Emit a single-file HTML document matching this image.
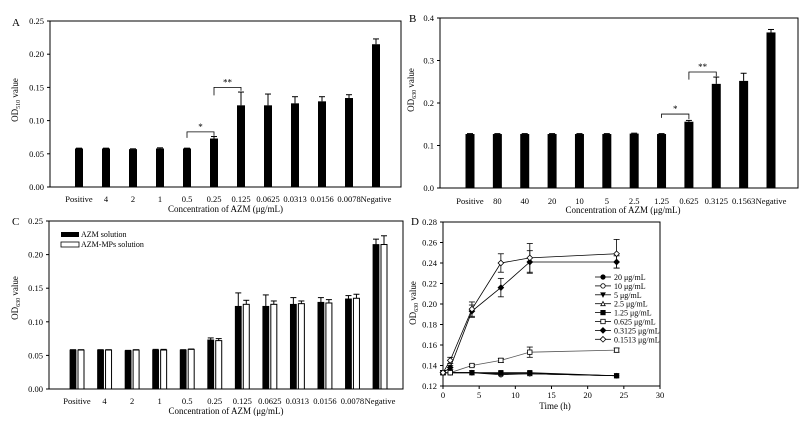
<!DOCTYPE html>
<html><head><meta charset="utf-8"><style>
body{margin:0;background:#fff}
svg{display:block;font-family:"Liberation Serif",serif}
</style></head><body>
<svg id="fig" width="806" height="425" viewBox="0 0 806 425" xmlns="http://www.w3.org/2000/svg"></svg>
<script>
// ---- Panel A data ----
const catsA = ["Positive","4","2","1","0.5","0.25","0.125","0.0625","0.0313","0.0156","0.0078","Negative"];
const valsA = [0.058,0.058,0.057,0.058,0.058,0.073,0.123,0.123,0.126,0.129,0.134,0.215];
const errA  = [0.0005,0.0005,0.0005,0.001,0.0005,0.003,0.020,0.017,0.010,0.007,0.005,0.008];
const ticksA = ["0.00","0.05","0.10","0.15","0.20","0.25"];
// ---- Panel B data ----
const catsB = ["Positive","80","40","20","10","5","2.5","1.25","0.625","0.3125","0.1563","Negative"];
const valsB = [0.127,0.127,0.127,0.127,0.127,0.127,0.128,0.127,0.156,0.245,0.252,0.366];
const errB  = [0.001,0.001,0.001,0.001,0.001,0.001,0.001,0.001,0.003,0.016,0.018,0.007];
const ticksB = ["0.0","0.1","0.2","0.3","0.4"];
// ---- Panel C data ----
const valsC1 = [0.058,0.058,0.057,0.058,0.058,0.073,0.123,0.123,0.126,0.129,0.134,0.215];
const errC1  = [0.0005,0.0005,0.0005,0.001,0.0005,0.003,0.020,0.017,0.010,0.007,0.005,0.008];
const valsC2 = [0.058,0.058,0.058,0.058,0.059,0.072,0.126,0.126,0.127,0.128,0.135,0.215];
const errC2  = [0.0005,0.0005,0.0005,0.001,0.0005,0.003,0.006,0.005,0.004,0.005,0.006,0.013];
// ---- Panel D data ----
const timesD = [0,1,4,8,12,24];
const labelsD = ["20 μg/mL","10 μg/mL","5 μg/mL","2.5 μg/mL","1.25 μg/mL","0.625 μg/mL","0.3125 μg/mL","0.1513 μg/mL"];
const d20   = [0.133,0.133,0.133,0.132,0.132,0.130];
const d10   = [0.133,0.133,0.133,0.131,0.132,0.130];
const d5    = [0.133,0.133,0.133,0.132,0.132,0.130];
const d25   = [0.133,0.133,0.133,0.132,0.132,0.130];
const d125  = [0.133,0.133,0.133,0.133,0.133,0.130];
const d0625 = [0.133,0.133,0.140,0.145,0.153,0.155];
const d03125= [0.133,0.138,0.193,0.216,0.241,0.241];
const d01513= [0.133,0.145,0.195,0.240,0.245,0.249];
const e0625 = [0,0,0.001,0.002,0.005,0.002];
const e03125= [0.002,0.002,0.006,0.009,0.011,0.006];
const e01513= [0,0.003,0.007,0.009,0.014,0.014];
const ticksDy = ["0.12","0.14","0.16","0.18","0.20","0.22","0.24","0.26","0.28"];
const ticksDx = ["0","5","10","15","20","25","30"];

const NS="http://www.w3.org/2000/svg";
const svg=document.getElementById('fig');
const FS=8.5;
function el(tag,attrs,parent,txt){const e=document.createElementNS(NS,tag);for(const k in attrs)e.setAttribute(k,attrs[k]);if(txt!==undefined)e.textContent=txt;(parent||svg).appendChild(e);return e;}
function grp(name){const g=el('g',{},svg);return g;}

function frame(g,x0,y0,x1,y1){el('rect',{x:x0,y:y0,width:x1-x0,height:y1-y0,fill:'none',stroke:'#000','stroke-width':1},g);}
function yAxis(g,ticks,x0,ysc){ticks.forEach((t,i)=>{const y=ysc(parseFloat(t));el('line',{x1:x0-3,x2:x0,y1:y,y2:y,stroke:'#000'},g);const tx=el('text',{x:x0-6,y:y+3,'font-size':FS,'text-anchor':'end'},g,t);});}
function yTitle(g,x,y,sub){const t=el('text',{x:x,y:y,'font-size':9,'text-anchor':'middle',transform:`rotate(-90 ${x} ${y})`},g);el('tspan',{},t,'OD');el('tspan',{'font-size':6,dy:2},t,sub);el('tspan',{dy:-2},t,' value');}
function xTitle(g,x,y,txt){const t=el('text',{x:x,y:y,'font-size':9,'text-anchor':'middle'},g,txt);}
function letter(x,y,L){const t=el('text',{x:x,y:y,'font-size':11},svg,L);}
function errbar(g,x,yTop,yEnd,w){el('line',{x1:x,x2:x,y1:yTop,y2:yEnd,stroke:'#000'},g);el('line',{x1:x-w,x2:x+w,y1:yEnd,y2:yEnd,stroke:'#000'},g);}
function bracket(g,xa,xb,yl,yr,yt,star){el('polyline',{points:`${xa},${yl} ${xa},${yt} ${xb},${yt} ${xb},${yr}`,fill:'none',stroke:'#000','stroke-width':0.8},g);const t=el('text',{x:(xa+xb)/2,y:yt-2,'font-size':9,'text-anchor':'middle'},g,star);}

function barPanel(name,cats,vals,errs,ticks,ymax,box,c0,cN,bw,tickY,titleY,ylabX,ylabY,sub){
  const g=grp(name);
  const [x0,y0,x1,y1]=box;
  const ysc=v=>y1-(v/ymax)*(y1-y0);
  const xsc=i=>c0+i*(cN-c0)/(cats.length-1);
  frame(g,x0,y0,x1,y1);yAxis(g,ticks,x0,ysc);
  cats.forEach((c,i)=>{
    const b=el('rect',{x:xsc(i)-bw/2,y:ysc(vals[i]),width:bw,height:y1-ysc(vals[i]),fill:'#000'},g);
    
    errbar(g,xsc(i),ysc(vals[i]),ysc(vals[i]+errs[i]),3);
    const t=el('text',{x:xsc(i),y:tickY,'font-size':FS,'text-anchor':'middle'},g,c);
    
  });
  xTitle(g,(x0+x1)/2+ (name==='panel-b'?4:0),titleY,'Concentration of AZM (μg/mL)');
  yTitle(g,ylabX,ylabY,sub);
  return {g,xsc,ysc};
}

// Panel A
letter(12,26,'A');
const A=barPanel('panel-a',catsA,valsA,errA,ticksA,0.25,[50,21,401,187],79,376,8,202,212,18,100,'510');
bracket(A.g,A.xsc(4),A.xsc(5),A.ysc(0.074),A.ysc(0.077),A.ysc(0.083),'*');
bracket(A.g,A.xsc(5),A.xsc(6),A.ysc(0.138),A.ysc(0.145),A.ysc(0.15),'**');

// Panel B
letter(409,22,'B');
const B=barPanel('panel-b',catsB,valsB,errB,ticksB,0.4,[440,18,798,188],470,771,9,204,213,414,90,'630');
bracket(B.g,B.xsc(7),B.xsc(8),B.ysc(0.165),B.ysc(0.162),B.ysc(0.174),'*');
bracket(B.g,B.xsc(8),B.xsc(9),B.ysc(0.255),B.ysc(0.263),B.ysc(0.273),'**');

// Panel C
letter(12,225,'C');
(function(){
  const g=grp('panel-c');
  const x0=49,y0=221,x1=403,y1=389,ymax=0.25;
  const ysc=v=>y1-(v/ymax)*(y1-y0);
  const xsc=i=>77+i*(380-77)/(catsA.length-1);
  frame(g,x0,y0,x1,y1);yAxis(g,ticksA,x0,ysc);
  catsA.forEach((c,i)=>{
    const cx=xsc(i);
    const b1=el('rect',{x:cx-7,y:ysc(valsC1[i]),width:6,height:y1-ysc(valsC1[i]),fill:'#000',stroke:'#000','stroke-width':0.8},g);
    
    errbar(g,cx-4,ysc(valsC1[i]),ysc(valsC1[i]+errC1[i]),3);
    const b2=el('rect',{x:cx+1,y:ysc(valsC2[i]),width:6,height:y1-ysc(valsC2[i]),fill:'#fff',stroke:'#000','stroke-width':1},g);
    
    errbar(g,cx+4,ysc(valsC2[i]),ysc(valsC2[i]+errC2[i]),3);
    const t=el('text',{x:cx,y:404,'font-size':FS,'text-anchor':'middle'},g,c);
    
  });
  xTitle(g,226,414,'Concentration of AZM (μg/mL)');
  yTitle(g,18,298,'630');
  const lg=el('g',{},g);
  el('rect',{x:61,y:232,width:18,height:5,fill:'#000'},lg);
  el('text',{x:81,y:237,'font-size':8},lg,'AZM solution');
  el('rect',{x:61,y:242,width:18,height:5,fill:'#fff',stroke:'#000','stroke-width':0.8},lg);
  el('text',{x:81,y:247,'font-size':8},lg,'AZM-MPs solution');
})();

// Panel D
letter(411,225,'D');
(function(){
  const g=grp('panel-d');
  const x0=443,y0=222,x1=660,y1=386;
  const ysc=v=>y1-((v-0.12)/0.16)*(y1-y0);
  const xsc=t=>x0+(t/30)*(x1-x0);
  frame(g,x0,y0,x1,y1);yAxis(g,ticksDy,x0,ysc);
  ticksDx.forEach(t=>{const x=xsc(+t);el('line',{x1:x,x2:x,y1:y1,y2:y1+3,stroke:'#000'},g);const tx=el('text',{x:x,y:398,'font-size':FS,'text-anchor':'middle'},g,t);});
  xTitle(g,555,409,'Time (h)');
  yTitle(g,416,303,'630');
  const series=[[d20,null,'circle',true],[d10,null,'circle',false],[d5,null,'tri',true],[d25,null,'triup',false],[d125,null,'square',true],[d0625,e0625,'square',false],[d03125,e03125,'diamond',true],[d01513,e01513,'diamond',false]];
  function marker(p,x,y,shape,filled){
    const f=filled?'#000':'#fff';let m;
    if(shape==='circle')m=el('circle',{cx:x,cy:y,r:2.2,fill:f,stroke:'#000','stroke-width':0.8},p);
    else if(shape==='square')m=el('rect',{x:x-2.2,y:y-2.2,width:4.4,height:4.4,fill:f,stroke:'#000','stroke-width':0.8},p);
    else if(shape==='diamond')m=el('polygon',{points:`${x},${y-2.8} ${x+2.8},${y} ${x},${y+2.8} ${x-2.8},${y}`,fill:f,stroke:'#000','stroke-width':0.8},p);
    else if(shape==='tri')m=el('polygon',{points:`${x-2.2},${y-2} ${x+2.2},${y-2} ${x},${y+2.2}`,fill:f,stroke:'#000','stroke-width':0.8},p);
    else m=el('polygon',{points:`${x-2.2},${y+2} ${x+2.2},${y+2} ${x},${y-2.2}`,fill:f,stroke:'#000','stroke-width':0.8},p);
    return m;
  }
  series.forEach((s,k)=>{
    const sg=el('g',{},g);
    const pts=timesD.map((t,i)=>xsc(t)+','+ysc(s[0][i])).join(' ');
    el('polyline',{points:pts,fill:'none',stroke:k===2||k===5?'#555':'#000','stroke-width':0.8},sg);
    timesD.forEach((t,i)=>{
      if(s[1]&&s[1][i]>0){const x=xsc(t);el('line',{x1:x,x2:x,y1:ysc(s[0][i]-s[1][i]),y2:ysc(s[0][i]+s[1][i]),stroke:'#000','stroke-width':0.8},sg);
        [s[0][i]-s[1][i],s[0][i]+s[1][i]].forEach(v=>el('line',{x1:x-3,x2:x+3,y1:ysc(v),y2:ysc(v),stroke:'#000','stroke-width':0.8},sg));}
      const m=marker(sg,xsc(t),ysc(s[0][i]),s[2],s[3]);
      
    });
    const ly=277+k*8.9;
    const le=el('g',{},g);
    el('line',{x1:595,x2:611,y1:ly,y2:ly,stroke:'#000','stroke-width':0.8},le);
    marker(le,603,ly,s[2],s[3]);
    el('text',{x:614,y:ly+3,'font-size':8},le,labelsD[k]);
  });
})();
</script>
</body></html>
